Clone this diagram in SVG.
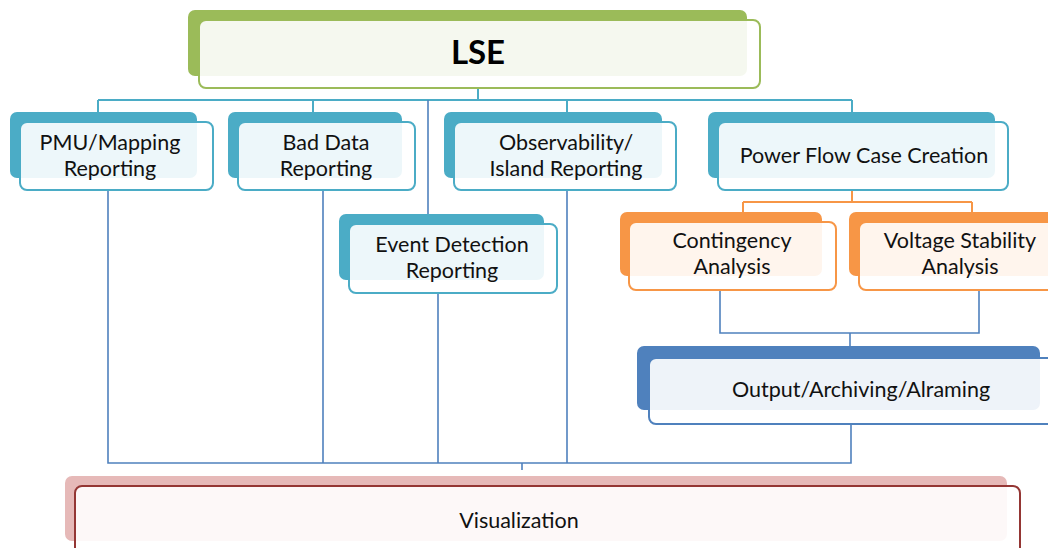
<svg xmlns="http://www.w3.org/2000/svg" width="1048" height="548" viewBox="0 0 1048 548">
<style>
text{font-family:Lato,"Open Sans","Liberation Sans",sans-serif;font-size:21.5px;fill:#111;text-anchor:middle}
.front{fill:#fff;fill-opacity:0.9;stroke-width:2}
.g .back{fill:#9bbb59}.g .front{stroke:#9bbb59}
.t .back{fill:#4bacc6}.t .front{stroke:#4bacc6}
.o .back{fill:#f79646}.o .front{stroke:#f79646}
.b .back{fill:#4f81bd}.b .front{stroke:#4f81bd}
.r .back{fill:#e6b9b8}.r .front{stroke:#943634;fill-opacity:0.9}
.ct{fill:none;stroke:#4bacc6;stroke-width:2}
.cb{fill:none;stroke:#4f81bd;stroke-width:1.6}
.co{fill:none;stroke:#f79646;stroke-width:2}
</style>
<rect width="1048" height="548" fill="#fff"/>
<g id="connectors">
<path class="ct" d="M478 88V100M98 100H852M98 100V112M313 100V112M567 100V112M852 100V112"/>
<path class="cb" d="M428 100V214"/>
<path class="co" d="M852 190V202M743 202H972M743 202V213M972 202V213"/>
<path class="cb" d="M720 290V333H979V290M850 333V346"/>
<path class="cb" d="M108 190V463H851V424M323 190V463M438 293V463M567 190V463M522 463V470"/>
</g>
<g id="lse" class="g">
<rect class="back" x="188" y="10" width="559" height="66" rx="7"/>
<rect class="front" x="199" y="20" width="561" height="68" rx="7"/>
<text x="478" y="64" style="font-size:33px;font-weight:bold;fill:#000">LSE</text>
</g>
<g id="pmu" class="t">
<rect class="back" x="10" y="112" width="187" height="66" rx="7"/>
<rect class="front" x="20" y="122" width="193" height="68" rx="7"/>
<text x="110" y="150">PMU/Mapping</text>
<text x="110" y="176">Reporting</text>
</g>
<g id="baddata" class="t">
<rect class="back" x="228" y="112" width="174" height="66" rx="7"/>
<rect class="front" x="238" y="122" width="177" height="68" rx="7"/>
<text x="326" y="150">Bad Data</text>
<text x="326" y="176">Reporting</text>
</g>
<g id="observability" class="t">
<rect class="back" x="444" y="112" width="218" height="66" rx="7"/>
<rect class="front" x="454" y="122" width="222" height="68" rx="7"/>
<text x="566" y="150">Observability/</text>
<text x="566" y="176">Island Reporting</text>
</g>
<g id="powerflow" class="t">
<rect class="back" x="708" y="112" width="287" height="66" rx="7"/>
<rect class="front" x="718" y="122" width="290" height="68" rx="7"/>
<text x="864" y="163">Power Flow Case Creation</text>
</g>
<g id="event" class="t">
<rect class="back" x="339" y="214" width="205" height="66" rx="7"/>
<rect class="front" x="349" y="224" width="208" height="69" rx="7"/>
<text x="452" y="252">Event Detection</text>
<text x="452" y="278">Reporting</text>
</g>
<g id="contingency" class="o">
<rect class="back" x="620" y="212" width="202" height="64" rx="7"/>
<rect class="front" x="629" y="222" width="207" height="68" rx="7"/>
<text x="732" y="248">Contingency</text>
<text x="732" y="274">Analysis</text>
</g>
<g id="voltage" class="o">
<rect class="back" x="849" y="212" width="210" height="64" rx="7"/>
<rect class="front" x="859" y="222" width="200" height="68" rx="7"/>
<text x="960" y="248">Voltage Stability</text>
<text x="960" y="274">Analysis</text>
</g>
<g id="output" class="b">
<rect class="back" x="637" y="346" width="403" height="64" rx="7"/>
<rect class="front" x="649" y="358" width="410" height="66" rx="7"/>
<text x="861" y="397">Output/Archiving/Alraming</text>
</g>
<g id="visualization" class="r">
<rect class="back" x="65" y="476" width="942" height="65" rx="7"/>
<rect class="front" x="75" y="486" width="945" height="72" rx="7"/>
<text x="519" y="528">Visualization</text>
</g>
</svg>
